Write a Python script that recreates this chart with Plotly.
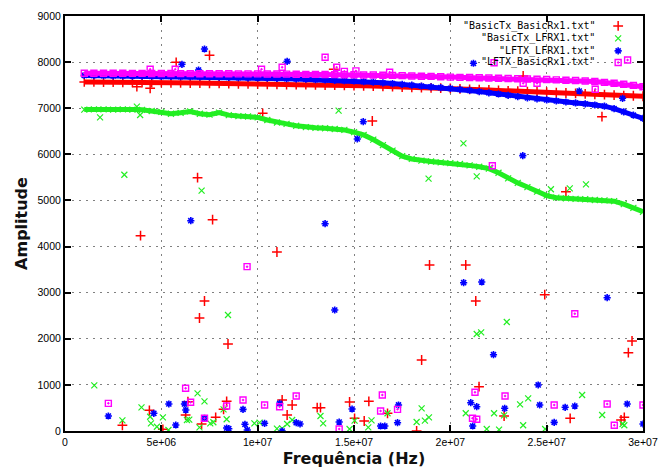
import plotly.graph_objects as go

# ---------------- data ----------------
sweep_freq = [1.0e6, 1.5e6, 2.0e6, 2.5e6, 3.0e6, 3.5e6, 4.0e6, 4.5e6, 5.0e6, 5.5e6,
              6.0e6, 6.5e6, 7.0e6, 7.5e6, 8.0e6, 8.5e6, 9.0e6, 9.5e6, 1.0e7, 1.05e7,
              1.1e7, 1.15e7, 1.2e7, 1.25e7, 1.3e7, 1.35e7, 1.4e7, 1.45e7, 1.5e7, 1.55e7,
              1.6e7, 1.65e7, 1.7e7, 1.75e7, 1.8e7, 1.85e7, 1.9e7, 1.95e7, 2.0e7, 2.05e7,
              2.1e7, 2.15e7, 2.2e7, 2.25e7, 2.3e7, 2.35e7, 2.4e7, 2.45e7, 2.5e7, 2.55e7,
              2.6e7, 2.65e7, 2.7e7, 2.75e7, 2.8e7, 2.85e7, 2.9e7, 2.95e7, 3.0e7]

basic_basic_sweep = [7570, 7570, 7565, 7565, 7560, 7560, 7555, 7555, 7555, 7550,
                     7550, 7545, 7545, 7540, 7540, 7535, 7530, 7530, 7525, 7520,
                     7520, 7515, 7510, 7510, 7505, 7500, 7500, 7495, 7490, 7485,
                     7480, 7475, 7470, 7460, 7455, 7445, 7440, 7435, 7430, 7420,
                     7410, 7405, 7395, 7385, 7375, 7370, 7360, 7355, 7350, 7340,
                     7330, 7320, 7310, 7300, 7295, 7285, 7275, 7270, 7260]

basic_lfrx_sweep = [6970, 6975, 6975, 6970, 6975, 6970, 6965, 6940, 6920, 6880,
                    6900, 6930, 6880, 6860, 6905, 6850, 6830, 6820, 6800, 6745,
                    6690, 6660, 6620, 6590, 6575, 6565, 6550, 6530, 6480, 6420,
                    6320, 6200, 6080, 5960, 5900, 5865, 5845, 5825, 5810, 5790,
                    5760, 5730, 5690, 5600, 5480, 5380, 5290, 5190, 5105, 5060,
                    5045, 5035, 5025, 5010, 5000, 4985, 4920, 4840, 4755]

lftx_lfrx_sweep = [7710, 7708, 7705, 7703, 7700, 7698, 7695, 7693, 7690, 7688,
                   7685, 7683, 7680, 7678, 7675, 7670, 7665, 7660, 7655, 7650,
                   7645, 7640, 7635, 7628, 7620, 7612, 7605, 7598, 7590, 7578,
                   7565, 7550, 7535, 7518, 7500, 7482, 7465, 7448, 7430, 7408,
                   7385, 7360, 7335, 7308, 7280, 7252, 7225, 7202, 7180, 7158,
                   7135, 7115, 7095, 7070, 7045, 6990, 6920, 6850, 6780]

lftx_basic_sweep = [7760, 7760, 7760, 7758, 7757, 7756, 7755, 7754, 7753, 7752,
                    7751, 7750, 7749, 7748, 7747, 7746, 7745, 7745, 7745, 7743,
                    7741, 7739, 7737, 7735, 7733, 7731, 7729, 7727, 7725, 7722,
                    7720, 7716, 7712, 7706, 7700, 7695, 7690, 7682, 7675, 7670,
                    7665, 7660, 7655, 7650, 7645, 7640, 7635, 7628, 7622, 7615,
                    7608, 7600, 7590, 7578, 7560, 7540, 7520, 7495, 7465]

basic_basic_out_f = [6.88e6, 7.66e6, 3.92e6, 1.10e7, 7.24e6, 6.98e6, 8.46e6, 1.892e7, 2.08e7, 2.49e7,
                     2.132e7, 2.943e7, 2.924e7, 1.851e7, 7.5e6, 5.77e6, 1.395e7, 3.73e6, 4.42e6, 1.026e7,
                     1.595e7, 2.787e7, 2.378e7, 2.6e7,
                     2.98e6, 4.38e6, 5.08e6, 6.38e6, 6.26e6, 7.09e6, 7.82e6, 8.39e6, 8.23e6, 1.127e7,
                     1.179e7, 1.153e7, 1.309e7, 1.326e7, 1.477e7, 1.503e7, 1.577e7, 1.553e7, 1.674e7, 1.825e7,
                     2.149e7, 2.279e7, 2.622e7, 2.903e7, 2.886e7]
basic_basic_out_a = [5494, 4583, 4235, 3882, 2819, 2451, 1887, 3600, 3600, 2956,
                     2819, 1952, 1698, 1540, 8148, 7996, 7844, 7467, 7432, 6890,
                     6723, 6816, 7699, 5190,
                     124, 449, 37, 636, 347, 152, 297, 644, 470, 672,
                     564, 347, 506, 506, 629, 275, 644, 217, 384, 0,
                     961, 325, 275, 297, 239]

basic_lfrx_out_f = [3.08e6, 7.09e6, 8.46e6, 1.887e7, 2.137e7, 2.522e7, 2.62e7, 2.704e7, 2.293e7, 2.137e7,
                    2.16e7, 1.82e6, 3.73e6, 3.9e6, 1.42e7, 2.068e7,
                    1.52e6, 2.98e6, 3.97e6, 4.42e6, 4.46e6, 4.77e6, 5.08e6, 5.37e6, 6.33e6, 6.45e6,
                    6.88e6, 7.24e6, 6.98e6, 7.54e6, 7.7e6, 8.23e6, 8.39e6, 9.83e6, 1.01e7, 1.179e7,
                    1.153e7, 1.127e7, 1.1e7, 1.326e7, 1.34e7, 1.477e7, 1.503e7, 1.591e7, 1.574e7, 1.674e7,
                    1.825e7, 1.851e7, 1.868e7, 1.889e7, 2.08e7, 2.189e7, 2.253e7, 2.227e7, 2.279e7, 2.404e7,
                    2.362e7, 2.378e7, 2.492e7, 2.684e7, 2.788e7, 2.894e7, 2.903e7]
basic_lfrx_out_a = [5558, 5212, 2516, 5472, 5523, 5242, 5263, 5350, 2364, 2104,
                    2140, 6803, 7033, 6853, 6947, 6239,
                    991, 232, 514, 310, 167, 93, 297, 22, 239, 245,
                    817, 644, 80, 167, 190, 470, 254, 167, 180, 239,
                    152, 58, 50, 325, 167, 43, 224, 232, 80, 384,
                    195, 492, 224, 297, 384, 43, 29, 384, 340, 709,
                    579, 124, 43, 781, 347, 152, 124]

lftx_lfrx_out_f = [6.53e6, 1.35e7, 1.40e7, 2.376e7, 2.069e7, 2.163e7, 2.814e7, 2.224e7, 7.24e6, 6.07e6,
                   1.153e7, 6.93e6, 1.517e7, 1.548e7, 2.894e7, 2.669e7, 2.12e7,
                   2.25e6, 4.61e6, 5.39e6, 5.75e6, 6.2e6, 6.27e6, 7.24e6, 8.39e6, 8.5e6, 9.24e6,
                   9.34e6, 9.46e6, 1.036e7, 1.114e7, 1.127e7, 1.2e7, 1.22e7, 1.423e7, 1.49e7, 1.638e7,
                   1.66e7, 1.731e7, 1.726e7, 2.106e7, 2.137e7, 2.116e7, 2.282e7, 2.456e7, 2.464e7, 2.596e7,
                   2.646e7, 2.539e7, 2.918e7, 3.0e7]
lftx_lfrx_out_a = [4561, 4496, 2624, 5971, 3216, 3231, 2891, 1655, 8284, 7953,
                   8017, 7829, 6333, 6708, 7215, 7373, 7975,
                   325, 384, 586, 130, 586, 455, 275, 65, 50, 470,
                   145, 22, 167, 600, 0, 180, 152, 195, 477, 108,
                   108, 564, 180, 614, 527, 108, 492, 998, 564, 514,
                   542, 188, 586, 152]

lftx_basic_out_f = [9.45e6, 2.218e7, 2.646e7, 1.35e7, 1.127e7, 1.41e7, 4.42e6, 5.72e6, 1.45e7, 1.51e7,
                    1.02e7, 1.685e7, 2.92e7, 2.752e7, 2.227e7, 2.378e7, 2.45e7,
                    2.25e6, 6.26e6, 6.52e6, 7.24e6, 8.39e6, 9.24e6, 1.036e7, 1.114e7, 1.2e7, 1.423e7,
                    1.647e7, 1.638e7, 1.726e7, 2.128e7, 2.115e7, 2.137e7, 2.284e7, 2.539e7, 2.814e7, 2.851e7,
                    3.0e7]
lftx_basic_out_a = [3564, 5754, 2544, 8105, 7888, 7888, 7844, 7844, 7800, 7810,
                    7844, 7779, 8046, 7410, 7987, 7540, 7540,
                    600, 926, 622, 275, 542, 672, 564, 527, 759, 43,
                    781, 434, 470, 839, 275, 254, 759, 564, 586, 124,
                    564]

series_names = ['"BasicTx_BasicRx1.txt"', '"BasicTx_LFRX1.txt"',
                '"LFTX_LFRX1.txt"', '"LFTX_BasicRx1.txt"']

x_tick_vals = [0, 5e6, 1e7, 1.5e7, 2e7, 2.5e7, 3e7]
x_tick_text = ["0", "5e+06", "1e+07", "1.5e+07", "2e+07", "2.5e+07", "3e+07"]
y_tick_vals = [0, 1000, 2000, 3000, 4000, 5000, 6000, 7000, 8000, 9000]

# ---------------- styles ----------------
styles = [
    dict(color="#ff0000", symbol="cross-thin-open", size=7, lw=1.5),
    dict(color="#22ee22", symbol="x-thin-open", size=6, lw=1.2),
    dict(color="#0000ff", symbol="asterisk-open", size=6, lw=1.6),
    dict(color="#ff00ff", symbol="square-open-dot", size=6, lw=1.4),
]
sweeps = [basic_basic_sweep, basic_lfrx_sweep, lftx_lfrx_sweep, lftx_basic_sweep]
outs = [(basic_basic_out_f, basic_basic_out_a), (basic_lfrx_out_f, basic_lfrx_out_a),
        (lftx_lfrx_out_f, lftx_lfrx_out_a), (lftx_basic_out_f, lftx_basic_out_a)]
band_width = [5, 5, 5, 5]

fig = go.Figure()
for i, st in enumerate(styles):
    mk = dict(symbol=st["symbol"], size=st["size"], color=st["color"],
              line=dict(color=st["color"], width=st["lw"]))
    fig.add_trace(go.Scatter(x=sweep_freq, y=sweeps[i], mode="lines+markers",
                             line=dict(color=st["color"], width=band_width[i]),
                             marker=mk, showlegend=False, hoverinfo="skip"))
    fig.add_trace(go.Scatter(x=outs[i][0], y=outs[i][1], mode="markers",
                             marker=mk, showlegend=False, hoverinfo="skip"))

# key (gnuplot style: text right-aligned, sample to the right)
key_y = [0.976, 0.946, 0.916, 0.888]
for i, st in enumerate(styles):
    fig.add_trace(go.Scatter(x=[0.957], y=[key_y[i]], xaxis="x2", yaxis="y2", mode="markers",
                             marker=dict(symbol=st["symbol"], size=st["size"], color=st["color"],
                                         line=dict(color=st["color"], width=st["lw"])),
                             showlegend=False, hoverinfo="skip"))
    fig.add_annotation(x=0.921, y=key_y[i], xref="paper", yref="paper", text=series_names[i],
                       showarrow=False, xanchor="right", yanchor="middle",
                       font=dict(family="DejaVu Sans Mono", size=10, color="#000000"))

axis_common = dict(showline=True, linecolor="#000000", linewidth=2, mirror="ticks",
                   ticks="inside", ticklen=6, tickwidth=1.5, tickcolor="#000000",
                   showgrid=True, gridcolor="#808080", gridwidth=1, griddash="2px,5px",
                   zeroline=False, automargin=False,
                   tickfont=dict(family="Liberation Sans", size=10.5, color="#000000"))

fig.update_layout(
    width=661, height=475,
    margin=dict(l=65, r=18, t=16, b=44),
    paper_bgcolor="#ffffff", plot_bgcolor="#ffffff",
    xaxis=dict(range=[0, 3e7], tickvals=x_tick_vals, ticktext=x_tick_text,
               title=dict(text="Frequência (Hz)", standoff=6,
                          font=dict(family="DejaVu Sans", size=16, color="#111111", weight="bold")),
               **axis_common),
    yaxis=dict(range=[0, 9000], tickvals=y_tick_vals,
               title=dict(text="Amplitude", standoff=6,
                          font=dict(family="DejaVu Sans", size=16, color="#111111", weight="bold")),
               **axis_common),
    xaxis2=dict(overlaying="x", range=[0, 1], visible=False),
    yaxis2=dict(overlaying="y", range=[0, 1], visible=False),
)

fig.write_html("out.html", config={"displayModeBar": False},
               post_script="document.body.style.margin='0px';")
